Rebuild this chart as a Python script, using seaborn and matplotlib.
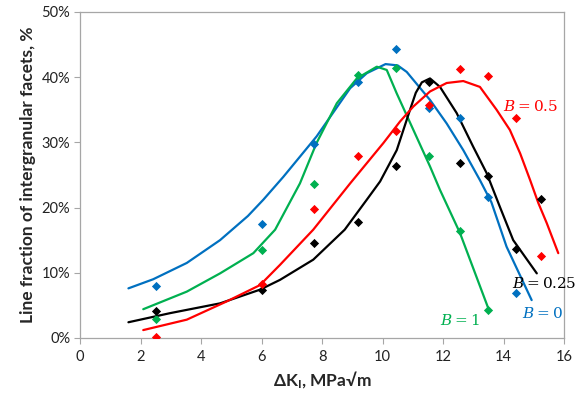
import numpy as np
import pandas as pd
import seaborn as sns
import matplotlib.pyplot as plt
from matplotlib.ticker import FuncFormatter

# measured points (x = dK, y = %)
x_pts = [2.5, 6.0, 7.75, 9.2, 10.45, 11.55, 12.55, 13.5, 14.4, 15.25]
b0_pts = [7.9, 17.4, 29.8, 39.2, 44.3, 35.3, 33.8, 21.6, 6.9]
b1_pts = [2.9, 13.5, 23.6, 40.4, 41.4, 27.9, 16.4, 4.3]
b025_pts = [4.1, 7.4, 14.5, 17.8, 26.3, 39.2, 26.9, 24.9, 13.7, 21.3]
b05_pts = [0.1, 8.2, 19.7, 27.9, 31.8, 35.7, 41.3, 40.2, 33.7, 12.6]

# fitted curves
b0_cx = [1.6, 2.42, 3.53, 4.63, 5.55, 6.06, 6.72, 7.82, 8.93, 9.48, 10.1, 10.5,
         10.8, 11.57, 12.12, 12.67, 13.22, 13.6, 14.1, 14.93]
b0_cy = [7.6, 9.0, 11.5, 15.0, 18.7, 21.2, 24.7, 30.9, 38.3, 40.6, 42.0, 41.8,
         40.8, 36.5, 32.9, 28.8, 24.2, 20.8, 14.0, 5.8]
b1_cx = [2.09, 3.53, 4.63, 5.73, 6.45, 7.27, 7.82, 8.49, 9.15, 9.81, 10.14,
         10.47, 11.02, 11.57, 11.9, 12.56, 13.5]
b1_cy = [4.4, 7.1, 9.9, 13.0, 16.6, 23.7, 29.9, 36.0, 39.8, 41.6, 41.1,
         37.5, 31.9, 26.3, 22.7, 16.1, 4.5]
b025_cx = [1.6, 2.98, 4.63, 5.95, 6.61, 7.71, 8.75, 9.48, 9.92, 10.47, 10.91,
           11.1, 11.3, 11.57, 11.9, 12.45, 13.0, 13.44, 13.88, 14.32, 15.1]
b025_cy = [2.4, 3.8, 5.3, 7.4, 8.9, 12.0, 16.6, 21.2, 24.0, 28.8, 35.0,
           37.6, 39.2, 39.8, 38.5, 34.5, 29.3, 25.3, 20.1, 15.0, 9.9]
b05_cx = [2.09, 3.53, 4.85, 5.95, 6.61, 7.71, 8.93, 10.03, 10.58, 11.02, 11.57,
          12.12, 12.67, 13.22, 13.77, 14.21, 14.55, 14.88, 15.15, 15.43, 15.81]
b05_cy = [1.2, 2.8, 5.6, 8.1, 11.2, 16.6, 23.7, 29.9, 33.2, 35.5, 37.8,
          39.1, 39.4, 38.5, 35.0, 31.9, 28.3, 24.2, 20.7, 17.6, 13.0]

series = [
    ("$B = 0$", "#0070C0", b0_pts, b0_cx, b0_cy, (14.6, 3.8)),
    ("$B = 1$", "#00B050", b1_pts, b1_cx, b1_cy, (11.9, 2.7)),
    ("$B = 0.25$", "#000000", b025_pts, b025_cx, b025_cy, (14.27, 8.4)),
    ("$B = 0.5$", "#FF0000", b05_pts, b05_cx, b05_cy, (13.98, 35.5)),
]

sns.set_style("white")
plt.rcParams['font.family'] = ['Lato', 'DejaVu Sans']
plt.rcParams['mathtext.fontset'] = 'custom'
plt.rcParams['mathtext.rm'] = 'DejaVu Serif'
plt.rcParams['mathtext.it'] = 'DejaVu Serif:italic'
plt.rcParams['mathtext.bf'] = 'Lato:bold'

fig = plt.figure(figsize=(5.82, 3.98), dpi=100)
ax = fig.add_axes([0.1375, 0.151, 0.8316, 0.819])

for name, col, pts, cx, cy, lab in series:
    curve = pd.DataFrame({"x": cx, "y": cy})
    sns.lineplot(data=curve, x="x", y="y", color=col, linewidth=1.6, ax=ax)
    p = pd.DataFrame({"x": x_pts[:len(pts)], "y": pts})
    sns.scatterplot(data=p, x="x", y="y", color=col, marker="D", s=22,
                    edgecolor=col, linewidth=0, ax=ax, zorder=3)
    ax.text(lab[0], lab[1], name, color=col, fontsize=11, va="center",
            ha="left", clip_on=False)

ax.set_xlim(0, 16)
ax.set_ylim(0, 50)
ax.set_xticks(range(0, 17, 2))
ax.set_yticks(range(0, 51, 10))
ax.yaxis.set_major_formatter(FuncFormatter(lambda v, _: f"{v:.0f}%"))
ax.tick_params(axis="both", direction="out", length=4, color="#a6a6a6",
               labelsize=10.5, labelcolor="#222222", width=0.8)
ax.tick_params(axis="x", bottom=True, pad=5)
ax.tick_params(axis="y", left=True, pad=3)
for s in ax.spines.values():
    s.set_color("#a6a6a6")
    s.set_linewidth(0.9)

ax.set_xlabel(r"ΔK$_\mathbf{I}$, MPa√m", fontsize=12.5, fontweight="bold",
              labelpad=4)
ax.set_ylabel("Line fraction of intergranular facets, %", fontsize=12.5,
              fontweight="bold", labelpad=4)

fig.savefig("out.png", dpi=100)
